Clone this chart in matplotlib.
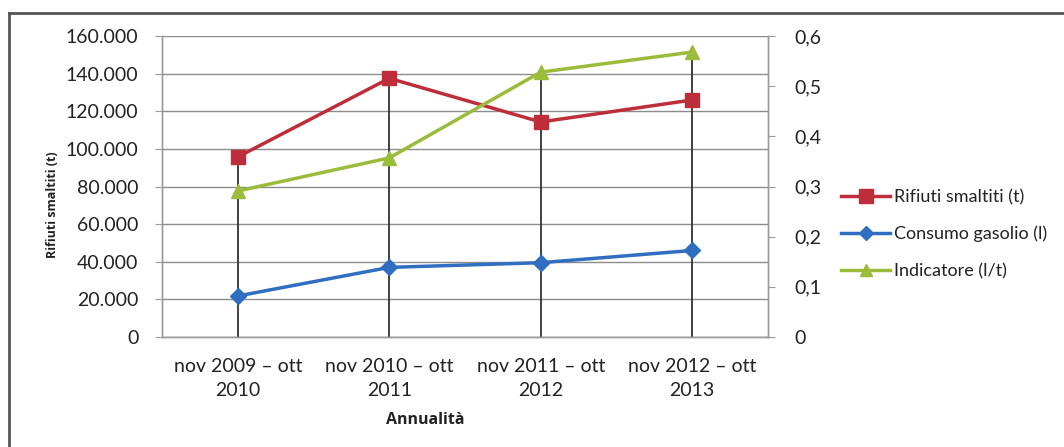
import matplotlib.pyplot as plt
from matplotlib.lines import Line2D

# Data
categories = ['nov 2009 – ott\n2010', 'nov 2010 – ott\n2011',
              'nov 2011 – ott\n2012', 'nov 2012 – ott\n2013']
rifiuti = [95700, 137500, 114300, 126000]
gasolio = [21800, 37000, 39500, 46000]
indicatore = [0.291, 0.357, 0.528, 0.568]

left_ticks = [0, 20000, 40000, 60000, 80000, 100000, 120000, 140000, 160000]
right_ticks = [0, 0.1, 0.2, 0.3, 0.4, 0.5, 0.6]

red = '#BE2D3A'
blue = '#2F6EC0'
green = '#9BBB3B'
txt = '#222222'

plt.rcParams['font.family'] = ['Lato', 'DejaVu Sans']

fig = plt.figure(figsize=(10.64, 4.47), dpi=100)
ax = fig.add_axes([162 / 1064, 1 - 337 / 447, (768 - 162) / 1064, (337 - 36) / 447])
ax2 = ax.twinx()

x = list(range(len(categories)))
ymax_left = 160000
ymax_right = 0.6

# drop lines from the highest point of each category
tops = []
for i in x:
    tops.append(max(rifiuti[i], gasolio[i], indicatore[i] * ymax_left / ymax_right))
ax.vlines(x, 0, tops, color='#333333', lw=1.3, zorder=2)

ax.plot(x, rifiuti, color=red, lw=2.5, marker='s', ms=10, zorder=4)
ax.plot(x, gasolio, color=blue, lw=2.5, marker='D', ms=8, zorder=4)
ax2.plot(x, indicatore, color=green, lw=2.5, marker='^', ms=10, zorder=4)

ax.set_xlim(-0.5, 3.5)
ax.set_ylim(0, ymax_left)
ax2.set_ylim(0, ymax_right)

ax.set_yticks(left_ticks)
ax.set_yticklabels([f'{v:,}'.replace(',', '.') for v in left_ticks])
ax2.set_yticks(right_ticks)
ax2.set_yticklabels(['0' if v == 0 else f'{v:.1f}'.replace('.', ',') for v in right_ticks])
ax.set_xticks(x)
ax.set_xticklabels(categories, linespacing=1.5)

ax.grid(axis='y', color='#8c8c8c', lw=1.0, zorder=0)
ax.set_axisbelow(True)

for a in (ax, ax2):
    a.spines['top'].set_visible(False)
    for s in ('left', 'right', 'bottom'):
        a.spines[s].set_color('#9a9a9a')
        a.spines[s].set_linewidth(1.0)
    a.tick_params(axis='both', colors='#9a9a9a', labelcolor=txt, labelsize=14, length=5)
ax.tick_params(axis='x', length=0, pad=15)
ax.tick_params(axis='y', pad=12)
ax2.tick_params(axis='y', pad=14)

ax.set_ylabel('Rifiuti smaltiti (t)', fontsize=9, fontweight='bold', color=txt,
              family=['Open Sans', 'DejaVu Sans'])
ax.yaxis.set_label_coords(-0.17, 0.44)
ax.set_xlabel('Annualità', fontsize=11.5, fontweight='bold', color=txt,
              family=['Open Sans', 'DejaVu Sans'])
ax.xaxis.set_label_coords(0.434, -0.25)

handles = [
    Line2D([], [], color=red, lw=2.5, marker='s', ms=10),
    Line2D([], [], color=blue, lw=2.5, marker='D', ms=7),
    Line2D([], [], color=green, lw=2.5, marker='^', ms=9),
]
labels = ['Rifiuti smaltiti (t)', 'Consumo gasolio (l)', 'Indicatore (l/t)']
leg = fig.legend(handles, labels, loc='center left', bbox_to_anchor=(834 / 1064, 1 - 234 / 447),
                 frameon=False, fontsize=13, handlelength=2.7,
                 handletextpad=0.2, labelspacing=1.15, borderaxespad=0)
for t in leg.get_texts():
    t.set_color(txt)

# outer frame of the chart
fig.add_artist(Line2D([9 / 1064, 1], [1 - 13 / 447, 1 - 13 / 447], color='#555555', lw=2))
fig.add_artist(Line2D([9 / 1064, 9 / 1064], [0, 1 - 13 / 447], color='#555555', lw=2))

fig.savefig('out.png', dpi=100)
